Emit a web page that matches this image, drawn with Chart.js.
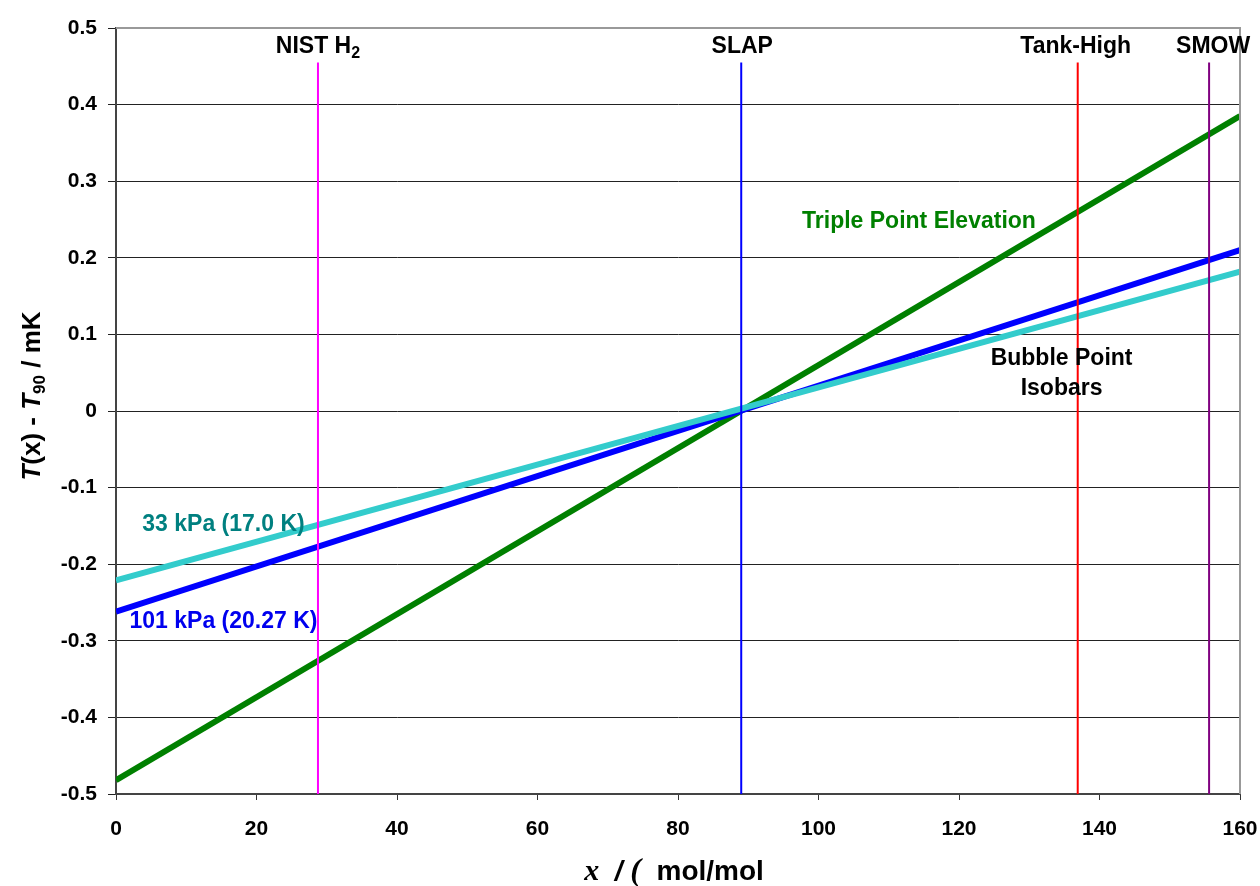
<!DOCTYPE html>
<html>
<head>
<meta charset="utf-8">
<script src="https://cdn.jsdelivr.net/npm/chart.js@4/dist/chart.umd.min.js"></script>
<style>
  html, body { margin: 0; padding: 0; background: #fff; }
  #wrap { width: 1260px; height: 886px; }
</style>
</head>
<body>
<div id="wrap"><canvas id="myChart"></canvas></div>
<script>
// line end points (x in mol/mol, y in mK)
const lineX = [0, 160];
const tripleY = [-0.482, 0.385];
const bar101Y = [-0.262, 0.210];
const bar33Y = [-0.221, 0.182];

// reference materials (vertical markers)
const refNames = ['NIST H2', 'SLAP', 'Tank-High', 'SMOW'];
const refX = [28.75, 89.0, 136.9, 155.6];
const refColors = ['#ff00ff', '#0000ff', '#ff0000', '#800080'];
const refTop = 0.455;

const xTicks = [0, 20, 40, 60, 80, 100, 120, 140, 160];
const yTicks = [-0.5, -0.4, -0.3, -0.2, -0.1, 0, 0.1, 0.2, 0.3, 0.4, 0.5];

function pts(xs, ys) {
  return xs.map(function (x, i) { return { x: x, y: ys[i] }; });
}

var datasets = [];
for (var i = 0; i < refNames.length; i++) {
  datasets.push({
    label: refNames[i],
    data: [{ x: refX[i], y: -0.5 }, { x: refX[i], y: refTop }],
    borderColor: refColors[i],
    borderWidth: 2,
    pointRadius: 0,
    fill: false
  });
}
datasets.push({ label: '33 kPa', data: pts(lineX, bar33Y), borderColor: '#33cccc', borderWidth: 6, pointRadius: 0, fill: false });
datasets.push({ label: '101 kPa', data: pts(lineX, bar101Y), borderColor: '#0000ff', borderWidth: 6, pointRadius: 0, fill: false });
datasets.push({ label: 'Triple Point', data: pts(lineX, tripleY), borderColor: '#008000', borderWidth: 6, pointRadius: 0, fill: false });

const SANS = '"Liberation Sans", Arial, sans-serif';
const LBL = 'bold 23px ' + SANS;

// texts drawn on top of the plot
const textPlugin = {
  id: 'texts',
  afterDraw: function (chart) {
    var c = chart.ctx, xs = chart.scales.x, ys = chart.scales.y, a = chart.chartArea;
    c.save();
    // grey frame on top and right
    c.strokeStyle = '#999';
    c.lineWidth = 2;
    c.beginPath();
    c.moveTo(a.left, a.top); c.lineTo(a.right, a.top); c.lineTo(a.right, a.bottom);
    c.stroke();

    c.textBaseline = 'middle';
    c.textAlign = 'center';
    c.fillStyle = '#000';
    c.font = LBL;
    // marker labels
    var ly = 47;
    // NIST H2 with subscript
    var nx = xs.getPixelForValue(refX[0]);
    var w1 = c.measureText('NIST H').width;
    c.font = 'bold 16px ' + SANS;
    var w2 = c.measureText('2').width;
    c.font = LBL;
    c.textAlign = 'left';
    c.fillText('NIST H', nx - (w1 + w2) / 2, ly);
    c.font = 'bold 16px ' + SANS;
    c.fillText('2', nx - (w1 + w2) / 2 + w1, ly + 7);
    c.font = LBL;
    c.textAlign = 'center';
    c.fillText('SLAP', xs.getPixelForValue(refX[1]) + 1, ly);
    c.fillText('Tank-High', xs.getPixelForValue(refX[2]) - 2, ly);
    c.fillText('SMOW', xs.getPixelForValue(refX[3]) + 4, ly);

    // series labels
    c.fillStyle = '#008000';
    c.fillText('Triple Point Elevation', xs.getPixelForValue(114.3), ys.getPixelForValue(0.247));
    c.fillStyle = '#000';
    c.fillText('Bubble Point', xs.getPixelForValue(134.6), ys.getPixelForValue(0.068));
    c.fillText('Isobars', xs.getPixelForValue(134.6), ys.getPixelForValue(0.029));
    c.fillStyle = '#008080';
    c.fillText('33 kPa (17.0 K)', xs.getPixelForValue(15.3), ys.getPixelForValue(-0.148));
    c.fillStyle = '#0000ee';
    c.fillText('101 kPa (20.27 K)', xs.getPixelForValue(15.3), ys.getPixelForValue(-0.275));

    // y axis title
    c.fillStyle = '#000';
    c.save();
    c.translate(33, 396);
    c.rotate(-Math.PI / 2);
    var parts = [
      { t: 'T', f: 'italic bold 26px ' + SANS, dy: 0 },
      { t: '(x) - ', f: 'bold 26px ' + SANS, dy: 0 },
      { t: 'T', f: 'italic bold 26px ' + SANS, dy: 0 },
      { t: '90', f: 'bold 17px ' + SANS, dy: 7 },
      { t: ' / mK', f: 'bold 26px ' + SANS, dy: 0 }
    ];
    var total = 0;
    parts.forEach(function (p) { c.font = p.f; p.w = c.measureText(p.t).width; total += p.w; });
    var px = -total / 2;
    c.textAlign = 'left';
    parts.forEach(function (p) { c.font = p.f; c.fillText(p.t, px, p.dy); px += p.w; });
    c.restore();

    // x axis title
    var xp = [
      { t: 'x', f: 'italic bold 30px "Liberation Serif", serif' },
      { t: '  / ', f: 'italic bold 28px ' + SANS },
      { t: '(', f: 'italic bold 32px "Liberation Serif", serif' },
      { t: '  mol/mol', f: 'bold 28px ' + SANS }
    ];
    var tot = 0;
    xp.forEach(function (p) { c.font = p.f; p.w = c.measureText(p.t).width; tot += p.w; });
    var qx = 674 - tot / 2;
    c.textAlign = 'left';
    xp.forEach(function (p) { c.font = p.f; c.fillText(p.t, qx, 872); qx += p.w; });
    c.restore();
  }
};

const config = {
  type: 'line',
  data: { datasets: datasets },
  options: {
    responsive: true,
    maintainAspectRatio: false,
    animation: false,
    layout: { padding: { left: 0, right: 20, top: 28, bottom: 0 } },
    plugins: { legend: { display: false }, tooltip: { enabled: false } },
    scales: {
      x: {
        type: 'linear',
        min: 0, max: 160,
        afterFit: function (s) { s.height = 92; s.paddingLeft = 0; s.paddingRight = 0; },
        afterBuildTicks: function (s) { s.ticks = xTicks.map(function (v) { return { value: v }; }); },
        grid: { drawOnChartArea: false, drawTicks: true, tickLength: 6, color: '#333' },
        border: { color: '#444', width: 2 },
        ticks: { color: '#000', font: { family: SANS, size: 21, weight: 'bold' }, padding: 17, maxRotation: 0 }
      },
      y: {
        type: 'linear',
        min: -0.5, max: 0.5,
        afterFit: function (s) { s.width = 116; s.paddingTop = 0; s.paddingBottom = 0; },
        afterBuildTicks: function (s) { s.ticks = yTicks.map(function (v) { return { value: v }; }); },
        grid: { color: '#222', lineWidth: 1, drawTicks: true, tickLength: 8 },
        border: { color: '#444', width: 2 },
        ticks: {
          color: '#000', font: { family: SANS, size: 21, weight: 'bold' }, padding: 11,
          callback: function (v) { return Math.abs(v) < 1e-9 ? '0' : String(Math.round(v * 10) / 10); }
        }
      }
    }
  },
  plugins: [textPlugin]
};

var ctx = document.getElementById('myChart').getContext('2d');
var myChart = new Chart(ctx, config);
</script>
</body>
</html>
